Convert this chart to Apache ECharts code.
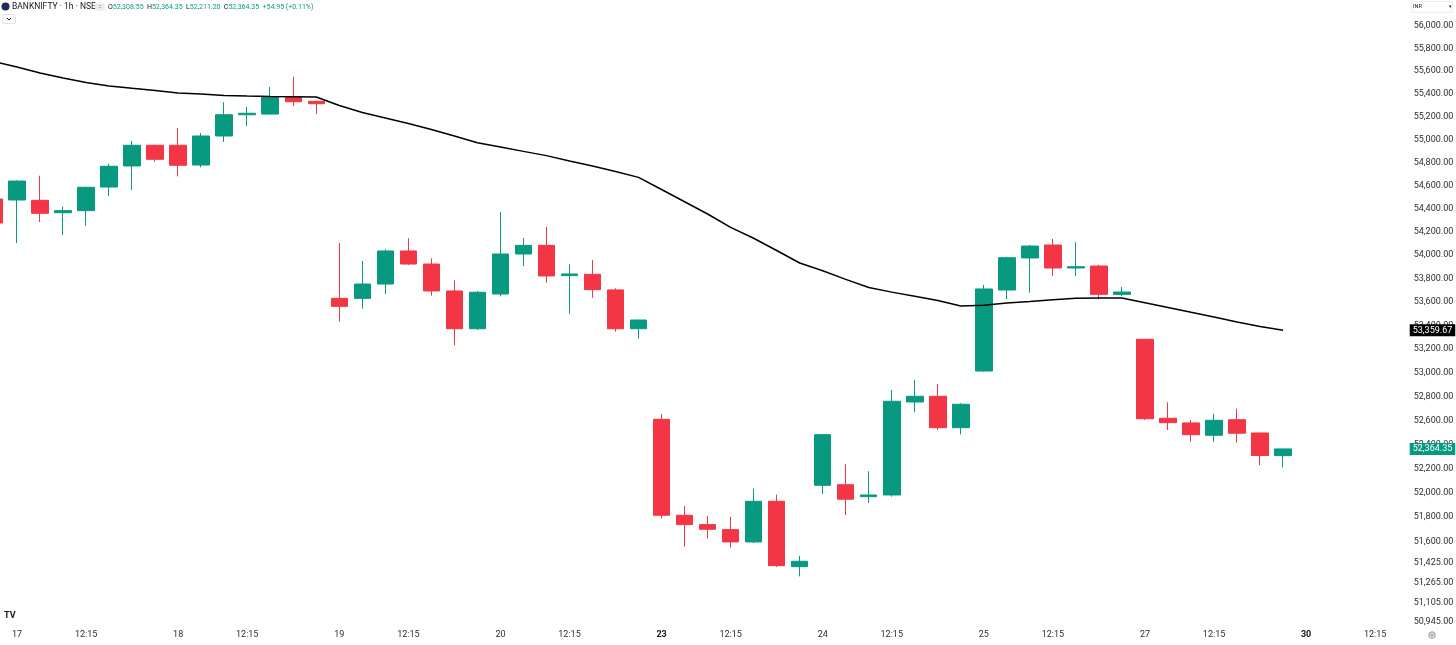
<!DOCTYPE html>
<html>
<head>
<meta charset="utf-8">
<title>BANKNIFTY 1h</title>
<script src="https://cdn.jsdelivr.net/npm/echarts@6/dist/echarts.min.js"></script>
<style>
  html, body { margin: 0; padding: 0; background: #fff; }
  #main { width: 1456px; height: 645px; }
</style>
</head>
<body>
<div id="main"></div>
<script>
// sessions shown on the time axis
var days = ['17', '18', '19', '20', '23', '24', '25', '27', '30'];
var hours = ['09:15', '10:15', '11:15', '12:15', '13:15', '14:15', '15:15'];
var boldDays = ['23', '30'];

// hourly candles, first one is the last bar of the 16th
var opens = [54483, 54475, 54472, 54365, 54383, 54587, 54770, 54950, 54950, 54778,
  55031, 55217, 55223, 55370, 55335, 53631, 53631, 53753, 54036, 53924,
  53694, 53373, 53668, 54010, 54084, 53825, 53836, 53703, 53373, 52611,
  51816, 51739, 51698, 51597, 51931, 51395, 52063, 52068, 51969, 51983,
  52756, 52804, 52541, 53016, 53702, 53976, 54087, 53890, 53907, 53665,
  53284, 52620, 52581, 52478, 52608, 52497, 52308.55];
var highs = [54518, 54645, 54685, 54417, 54590, 54790, 54987, 54955, 55101, 55057,
  55326, 55287, 55460, 55551, 55338, 54104, 53950, 54050, 54145, 53973,
  53785, 53694, 54371, 54147, 54242, 53922, 53958, 53717, 53450, 52656,
  51892, 51810, 51802, 52035, 51986, 51482, 52489, 52237, 52179, 52857,
  52940, 52907, 52745, 53745, 53987, 54087, 54139, 54110, 53918, 53728,
  53286, 52753, 52605, 52658, 52700, 52500, 52364.35];
var lows = [54250, 54104, 54285, 54173, 54253, 54509, 54561, 54807, 54680, 54758,
  54979, 55118, 55220, 55293, 55223, 53433, 53543, 53668, 53916, 53654,
  53233, 53362, 53648, 53907, 53764, 53500, 53637, 53348, 53289, 51788,
  51558, 51624, 51550, 51588, 51392, 51316, 51991, 51818, 51917, 51969,
  52670, 52522, 52486, 53010, 53625, 53679, 53822, 53822, 53623, 53651,
  52605, 52522, 52425, 52425, 52416, 52229, 52211.20];
var closes = [54276, 54639, 54360, 54383, 54585, 54767, 54950, 54828, 54776, 55031,
  55217, 55230, 55370, 55331, 55314, 53563, 53753, 54036, 53924, 53694,
  53373, 53683, 54010, 54084, 53822, 53839, 53705, 53373, 53447, 51816,
  51739, 51701, 51597, 51931, 51403, 51439, 52483, 51948, 51983, 52762,
  52804, 52541, 52737, 53711, 53978, 54078, 53890, 53901, 53665, 53685,
  52616, 52583, 52483, 52603, 52495, 52309.40, 52364.35];

// moving average overlay
var maValues = [55685, 55637, 55584, 55540, 55500, 55469, 55449, 55430, 55408, 55399,
  55387, 55381, 55377, 55375, 55373, 55298, 55236, 55188, 55140, 55088,
  55031, 54972, 54935, 54897, 54860, 54813, 54770, 54722, 54671, 54566,
  54460, 54354, 54239, 54145, 54040, 53933, 53866, 53793, 53723, 53684,
  53649, 53612, 53566, 53572, 53592, 53605, 53619, 53631, 53634, 53634,
  53594, 53553, 53512, 53472, 53431, 53392, 53359.67];

// price scale labels
var priceTicks = [56000, 55800, 55600, 55400, 55200, 55000, 54800, 54600, 54400, 54200,
  54000, 53800, 53600, 53400, 53200, 53000, 52800, 52600, 52400, 52200,
  52000, 51800, 51600, 51425, 51265, 51105, 50945];

var UP = '#089981', DOWN = '#F23645';

var categories = ['16 15:15'];
days.forEach(function (d) {
  hours.forEach(function (h) { categories.push(d + ' ' + h); });
});
categories = categories.slice(0, 62);

var candles = [];
for (var i = 0; i < opens.length; i++) {
  candles.push([opens[i], closes[i], lows[i], highs[i]]);
}

function fmtPrice(v) {
  return Number(v).toLocaleString('en-US', { minimumFractionDigits: 2, maximumFractionDigits: 2 });
}

var last = opens.length - 1;
var change = closes[last] - closes[last - 1];

// price tag on the right scale
function priceTag(value, bg) {
  return {
    silent: true,
    symbol: 'none',
    lineStyle: { color: 'rgba(0,0,0,0)', width: 0 },
    label: {
      show: true,
      position: 'end', distance: 0,
      backgroundColor: bg, color: '#fff',
      fontSize: 9, padding: [2, 3, 1, 3],
      formatter: function () { return fmtPrice(value); }
    },
    data: [{ yAxis: value }]
  };
}

var chart = echarts.init(document.getElementById('main'));

chart.setOption({
  animation: false,
  backgroundColor: '#ffffff',
  textStyle: { fontFamily: 'Roboto, sans-serif' },
  grid: {
    left: -17.5, right: 46.3, top: 0, bottom: 18,
    outerBoundsMode: 'none',
    containLabel: false
  },
  xAxis: {
    type: 'category',
    data: categories,
    boundaryGap: true,
    axisLine: { show: false },
    axisTick: { show: false },
    splitLine: { show: false },
    axisLabel: {
      margin: 3,
      fontSize: 9,
      color: '#2a2e39',
      hideOverlap: false,
      interval: function (idx, val) {
        var h = val.split(' ')[1];
        return val.split(' ')[0] !== '16' && (h === '09:15' || h === '12:15');
      },
      formatter: function (val) {
        var p = val.split(' ');
        if (p[1] === '12:15') return '12:15';
        return boldDays.indexOf(p[0]) >= 0 ? '{b|' + p[0] + '}' : p[0];
      },
      rich: { b: { fontWeight: 'bold', fontSize: 9, color: '#131722' } }
    }
  },
  yAxis: {
    type: 'log',
    logBase: 10,
    position: 'right',
    min: 50905,
    max: 56232,
    axisLine: { show: false },
    axisTick: { show: false },
    splitLine: { show: false },
    axisLabel: {
      customValues: priceTicks,
      margin: 4,
      fontSize: 9,
      color: '#2a2e39',
      formatter: function (v) { return fmtPrice(v); }
    }
  },
  series: [
    {
      type: 'candlestick',
      data: candles,
      barWidth: 17,
      itemStyle: {
        color: UP, color0: DOWN,
        borderColor: UP, borderColor0: DOWN,
        borderWidth: 1
      },
      markLine: priceTag(closes[last], UP)
    },
    {
      type: 'line',
      data: maValues,
      symbol: 'none',
      smooth: false,
      lineStyle: { color: '#000000', width: 1.5 },
      markLine: priceTag(maValues[maValues.length - 1], '#000000')
    }
  ],
  graphic: [
    { type: 'circle', shape: { cx: 5.5, cy: 6.5, r: 4 }, style: { fill: '#1f2b5b' } },
    { type: 'text', x: 12, y: 7, style: {
      text: 'BANKNIFTY · 1h · NSE', font: '8.5px Roboto', fill: '#131722', verticalAlign: 'middle' } },
    { type: 'rect', shape: { x: 95, y: 2.5, width: 10, height: 8.5, r: 4 }, style: { fill: '#eceef2' } },
    { type: 'text', x: 100, y: 7, style: {
      text: '=', font: '7px Roboto', fill: '#8a8e99', align: 'center', verticalAlign: 'middle' } },
    { type: 'text', x: 108, y: 7, style: {
      text: '{l|O}{v|' + fmtPrice(opens[last]) + '} {l|H}{v|' + fmtPrice(highs[last]) +
        '} {l|L}{v|' + fmtPrice(lows[last]) + '} {l|C}{v|' + fmtPrice(closes[last]) +
        '} {v|+' + change.toFixed(2) + ' (+' + (change / closes[last - 1] * 100).toFixed(2) + '%)}',
      verticalAlign: 'middle',
      rich: {
        l: { font: '7px Roboto', fill: '#131722', color: '#131722' },
        v: { font: '7px Roboto', fill: UP, color: UP }
      } } },
    { type: 'rect', shape: { x: 2.5, y: 14.5, width: 13, height: 9, r: 2 }, style: { fill: '#fff', stroke: '#e0e3eb', lineWidth: 1 } },
    { type: 'polyline', shape: { points: [[7, 18], [9, 20], [11, 18]] }, style: { stroke: '#131722', lineWidth: 1, fill: null } },
    { type: 'rect', shape: { x: 1411.5, y: 1.5, width: 41, height: 11 }, style: { fill: '#fff', stroke: '#eceef2', lineWidth: 1 } },
    { type: 'text', x: 1413, y: 7, style: { text: 'INR', font: '5.5px Roboto', fill: '#131722', verticalAlign: 'middle' } },
    { type: 'text', x: 1450, y: 7, style: { text: '▾', font: '5px Roboto', fill: '#131722', align: 'center', verticalAlign: 'middle' } },
    { type: 'text', x: 4, y: 616, style: { text: 'TV', font: 'bold 9px Roboto', fill: '#131722', verticalAlign: 'middle' } },
    { type: 'circle', shape: { cx: 1432, cy: 635, r: 3.2 }, style: { fill: null, stroke: '#6a6d78', lineWidth: 0.8 } },
    { type: 'circle', shape: { cx: 1432, cy: 635, r: 1.2 }, style: { fill: null, stroke: '#6a6d78', lineWidth: 0.8 } }
  ]
});
</script>
</body>
</html>
